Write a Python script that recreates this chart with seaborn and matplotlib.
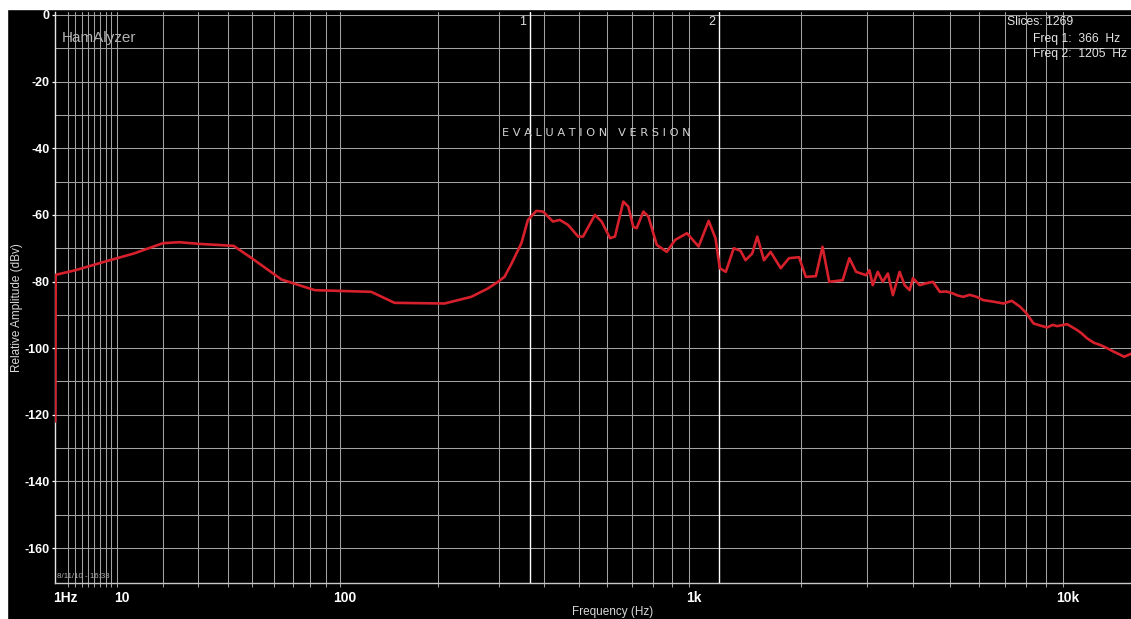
import numpy as np
import pandas as pd
import matplotlib
matplotlib.use("Agg")
import matplotlib.pyplot as plt
import matplotlib.transforms as mtransforms
from matplotlib.patches import Rectangle
from matplotlib.ticker import FixedLocator, NullFormatter
import seaborn as sns

# ---- spectrum (Hz, dBv) ----
freq_hz = [
    0.30, 0.35, 3.1, 8.3, 13.4, 20.1, 24.4, 30.2, 42.3, 49.7, 63.8, 82.9,
    125.7, 148.1, 208.5, 249.2, 278, 297, 310, 324, 346, 361, 381, 398,
    424, 443, 467, 498, 514, 554, 578, 610, 629, 663, 684, 706, 721, 752,
    776, 818, 871, 918, 988, 1062, 1131, 1180, 1212, 1258, 1322, 1379,
    1422, 1482, 1529, 1594, 1661, 1768, 1861, 1980, 2064, 2196, 2288, 2385,
    2591, 2700, 2814, 2993, 3055, 3117, 3215, 3316, 3421, 3528, 3677, 3792,
    3911, 3991, 4160, 4300, 4513, 4705, 4900, 5107, 5250, 5434, 5650, 5899,
    6145, 6500, 6949, 7318, 7702, 8000, 8359, 8700, 9082, 9400, 9655,
    10267, 10921, 11200, 11611, 12100, 12601, 13100, 13678, 14100, 14548,
    15247,
]
amplitude_dbv = [
    -122.0, -78.0, -76.6, -73.8, -71.6, -68.5, -68.2, -68.7, -69.3, -73.0,
    -79.4, -82.6, -83.1, -86.4, -86.6, -84.6, -82.1, -80.1, -78.6, -74.8,
    -68.5, -61.5, -58.8, -59.0, -62.0, -61.5, -63.0, -66.5, -66.5, -60.0,
    -62.0, -67.0, -66.5, -56.0, -57.5, -63.6, -64.0, -59.0, -60.5, -69.0,
    -71.1, -67.5, -65.5, -69.5, -61.8, -67.0, -76.0, -77.1, -70.0, -70.8,
    -73.6, -71.6, -66.5, -73.6, -71.1, -76.0, -73.0, -72.7, -78.6, -78.4,
    -69.6, -80.1, -79.6, -73.0, -77.1, -78.1, -76.6, -81.1, -77.1, -80.1,
    -77.6, -84.1, -77.1, -81.1, -82.6, -79.0, -81.1, -80.6, -80.1, -83.1,
    -83.0, -83.6, -84.2, -84.6, -84.0, -84.6, -85.6, -86.0, -86.6, -85.8,
    -87.6, -89.5, -92.6, -93.2, -93.8, -93.0, -93.4, -92.8, -94.6, -95.5,
    -97.1, -98.4, -99.1, -100.0, -101.1, -101.8, -102.6, -101.6,
]

x_tick_values = [1, 10, 100, 1000, 10000]
x_tick_labels = ["1Hz", "10", "100", "1k", "10k"]
y_tick_values = [0, -20, -40, -60, -80, -100, -120, -140, -160]
y_tick_labels = ["0", "-20", "-40", "-60", "-80", "-100", "-120", "-140", "-160"]
marker_freqs = [366, 1205]
marker_names = ["1", "2"]
slice_count = 1269
timestamp = "8/11/10 - 16:33"
title_text = "HamAlyzer"
watermark = "E V A L U A T I O N   V E R S I O N"

# ---- style ----
sns.set_style("dark")
plt.rcParams["font.family"] = ["Liberation Sans", "DejaVu Sans"]

W, H = 1131, 619
fig = plt.figure(figsize=(W / 100, H / 100), dpi=100, facecolor="black")
ax = fig.add_axes([55 / W, 36 / H, 1076 / W, 571 / H])
ax.set_facecolor("black")

df = pd.DataFrame({"freq": freq_hz, "amp": amplitude_dbv})
sns.lineplot(data=df, x="freq", y="amp", ax=ax, color="#d6202c",
             linewidth=1.9, sort=False, estimator=None, zorder=4)

# analyzer frequency axis: logarithmic with a small offset at the low end
OFFSET = 21.0


def fwd(f):
    return np.log10(np.maximum(np.asarray(f, dtype=float) + OFFSET, 1e-9))


def inv(t):
    return 10 ** np.asarray(t, dtype=float) - OFFSET


ax.set_xscale("function", functions=(fwd, inv))
ax.set_xlim(0.26, 15175)
ax.set_ylim(-170.5, 0.9)

# ticks and grid
minor_x = [m * 10 ** k for k in range(0, 5) for m in range(2, 11)
           if m * 10 ** k <= 15000]
ax.xaxis.remove_overlapping_locs = False
ax.xaxis.set_major_locator(FixedLocator(x_tick_values))
ax.xaxis.set_minor_locator(FixedLocator(minor_x))
ax.xaxis.set_minor_formatter(NullFormatter())
ax.set_xticks(x_tick_values)
ax.set_xticklabels(x_tick_labels)

ax.yaxis.set_major_locator(FixedLocator(y_tick_values))
ax.yaxis.set_minor_locator(FixedLocator(list(range(-10, -160, -20))))
ax.set_yticks(y_tick_values)
ax.set_yticklabels(y_tick_labels)

grid_col = "#a2a2a2"
ax.grid(False)
ax.grid(which="minor", axis="x", color=grid_col, linewidth=0.75)
ax.grid(which="both", axis="y", color=grid_col, linewidth=0.75)
ax.set_axisbelow(True)

ax.tick_params(axis="x", which="major", bottom=True, length=0, pad=6,
               labelsize=10, labelcolor="white")
ax.tick_params(axis="x", which="minor", bottom=True, length=3,
               color=grid_col, width=0.75)
ax.tick_params(axis="y", which="major", left=True, length=2.5, pad=1.5,
               color="white", width=0.9, labelsize=9, labelcolor="white")
ax.tick_params(axis="y", which="minor", left=False, length=0)
for lab in ax.get_xticklabels() + ax.get_yticklabels():
    lab.set_fontweight("bold")
shift = mtransforms.ScaledTranslation(5 / 100, 0, fig.dpi_scale_trans)
for lab in ax.get_xticklabels():
    lab.set_transform(lab.get_transform() + shift)

for side in ["top", "right"]:
    ax.spines[side].set_visible(False)
ax.spines["left"].set_color("#e6e6e6")
ax.spines["left"].set_linewidth(1.0)
ax.spines["bottom"].set_color("#c8c8c8")
ax.spines["bottom"].set_linewidth(1.0)

# axis titles
ax.set_xlabel("Frequency (Hz)", fontsize=8.5, color="#d8d8d8", va="center")
ax.xaxis.set_label_coords((613 - 55) / 1076, (583 - 612) / 571)
ax.set_ylabel("Relative Amplitude (dBv)", fontsize=8.5, color="#d8d8d8",
              va="center", ha="center")
ax.yaxis.set_label_coords((17 - 55) / 1076, (583 - 308) / 571)

# cursor markers
for f, name in zip(marker_freqs, marker_names):
    ax.axvline(f, color="white", linewidth=1.0, zorder=3)
    ax.annotate(name, xy=(f, 1.0), xycoords=("data", "axes fraction"),
                xytext=(-4, -10), textcoords="offset pixels",
                ha="right", va="center", fontsize=9, color="#e0e0e0")


def px(x, y):
    return x / W, 1 - y / H


fig.text(*px(62, 38), title_text, ha="left", va="center", fontsize=11,
         color="#b4b4b4")
fig.text(*px(1007, 22), f"Slices: {slice_count}", ha="left", va="center",
         fontsize=8.7, color="#e4e4e4")
fig.text(*px(1033, 39), f"Freq 1:  {marker_freqs[0]}  Hz", ha="left",
         va="center", fontsize=8.7, color="#e4e4e4")
fig.text(*px(1033, 54), f"Freq 2:  {marker_freqs[1]}  Hz", ha="left",
         va="center", fontsize=8.7, color="#e4e4e4")
fig.text(*px(596, 132.5), watermark, ha="center", va="center",
         fontsize=8.2, color="#d4d4d4", family=["DejaVu Sans"])
fig.text(*px(57, 577), timestamp, ha="left", va="center", fontsize=5.7,
         color="#b0b0b0")

# light frame strips along the top and left edges
fig.patches.append(Rectangle((0, 1 - 9 / H), 1, 9 / H,
                             transform=fig.transFigure, color="white",
                             zorder=10))
fig.patches.append(Rectangle((0, 0), 7 / W, 1, transform=fig.transFigure,
                             color="white", zorder=10))

fig.savefig("out.png", dpi=100, facecolor="black")
